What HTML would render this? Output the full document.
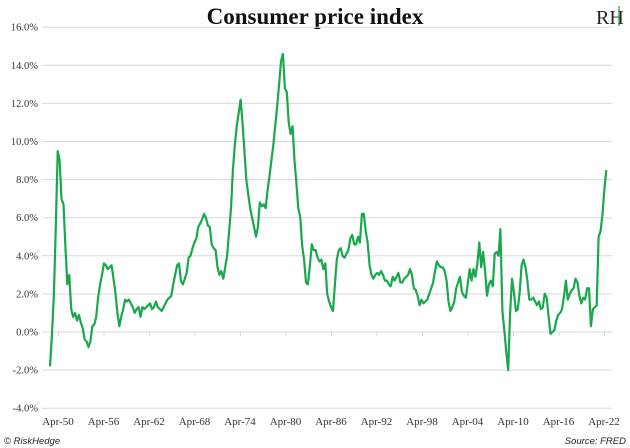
<!DOCTYPE html>
<html><head><meta charset="utf-8">
<style>
body{margin:0;background:#fff;width:630px;height:448px;overflow:hidden;font-family:"Liberation Serif",serif;}
svg{display:block}
</style></head>
<body>
<svg id="chart" width="630" height="448">
<text x="315" y="24" text-anchor="middle" font-size="23" font-weight="bold" fill="#111">Consumer price index</text>
<g><text x="596" y="24" font-size="20" fill="#222">RH</text><line x1="619" y1="6" x2="619" y2="26" stroke="#2a9d4a" stroke-width="1.2"/></g>
<g id="grid"></g><g id="ylabels"></g><g id="xlabels"></g>
<path id="line" fill="none" stroke="#1aa84c" stroke-width="2.2" stroke-linejoin="round"/>
<text x="4" y="444" font-family="Liberation Sans, sans-serif" font-style="italic" font-size="9.5" fill="#222">© RiskHedge</text>
<text x="626" y="444" text-anchor="end" font-family="Liberation Sans, sans-serif" font-style="italic" font-size="9.5" fill="#222">Source: FRED</text>
</svg>
<script>
const yTicks=[-4,-2,0,2,4,6,8,10,12,14,16];
const xLabels=["Apr-50","Apr-56","Apr-62","Apr-68","Apr-74","Apr-80","Apr-86","Apr-92","Apr-98","Apr-04","Apr-10","Apr-16","Apr-22"];
const startYear=1950;
const stepYears=0.25;
const values=[
-1.8,-0.2,2.0,5.5,
9.5,9.0,7.0,6.7,
4.5,2.5,3.0,1.2,
0.8,1.0,0.6,0.9,
0.5,0.2,-0.4,-0.5,
-0.8,-0.5,0.3,0.4,
0.8,1.8,2.5,3.0,
3.6,3.5,3.3,3.4,
3.5,2.8,2.0,1.0,
0.3,0.8,1.2,1.7,
1.6,1.7,1.5,1.3,
1.0,1.2,1.3,0.8,
1.3,1.2,1.3,1.4,
1.5,1.2,1.3,1.6,
1.3,1.2,1.1,1.3,
1.5,1.7,1.8,1.9,
2.5,3.0,3.5,3.6,
2.7,2.5,2.8,3.1,
3.9,4.0,4.4,4.7,
4.9,5.5,5.7,5.9,
6.2,6.0,5.6,5.5,
4.6,4.4,4.3,3.4,
3.0,3.2,2.8,3.4,
4.0,5.2,6.5,8.5,
9.8,10.8,11.5,12.2,
11.0,9.5,8.0,7.2,
6.5,6.0,5.5,5.0,
5.5,6.8,6.6,6.7,
6.5,7.4,8.2,9.0,
9.8,10.8,11.8,13.0,
14.2,14.6,12.8,12.6,
11.0,10.4,10.8,9.0,
7.8,6.5,6.0,4.5,
3.8,2.6,2.5,3.5,
4.6,4.3,4.3,3.9,
3.7,3.8,3.3,3.6,
2.0,1.6,1.3,1.1,
2.5,3.8,4.3,4.4,
4.0,3.9,4.1,4.3,
4.9,5.1,4.6,4.6,
5.0,4.7,6.2,6.2,
5.3,4.7,3.5,3.0,
2.8,3.0,3.1,3.0,
3.2,3.0,2.7,2.7,
2.5,2.4,2.9,2.7,
2.9,3.1,2.6,2.6,
2.8,2.9,3.0,3.3,
3.0,2.3,2.2,1.9,
1.4,1.7,1.5,1.6,
1.7,2.0,2.3,2.6,
3.2,3.7,3.5,3.4,
3.4,3.2,2.7,1.6,
1.1,1.3,1.6,2.3,
2.6,2.9,2.1,1.9,
1.8,2.5,3.3,2.7,
3.3,2.9,3.6,4.7,
3.4,4.2,3.2,1.9,
2.5,2.7,2.4,4.1,
4.2,4.0,5.4,1.1,
0.1,-1.0,-2.0,1.0,
2.8,2.1,1.1,1.2,
2.1,3.5,3.8,3.4,
2.7,1.7,1.7,1.8,
1.6,1.4,1.6,1.2,
1.3,2.0,1.8,0.8,
-0.1,0.0,0.1,0.6,
0.9,1.0,1.2,1.9,
2.7,1.7,2.0,2.2,
2.3,2.8,2.6,1.9,
1.5,1.8,1.7,2.3,
2.3,0.3,1.2,1.3,
1.4,5.0,5.3,6.2,
7.5,8.5];

const NS='http://www.w3.org/2000/svg';
const Y0=332, PX=19.05, XL=42, XR=612;
function yScale(v){return Y0 - v*PX;}
function xScale(t){return 50 + (t-1950)*7.7;}
const grid=document.getElementById('grid'), yl=document.getElementById('ylabels'), xl=document.getElementById('xlabels');
yTicks.forEach(v=>{
  const l=document.createElementNS(NS,'line');
  l.setAttribute('x1',XL);l.setAttribute('x2',XR);l.setAttribute('y1',yScale(v));l.setAttribute('y2',yScale(v));
  l.setAttribute('stroke','#d9d9d9');l.setAttribute('stroke-width','1');
  
  
  grid.appendChild(l);
  const t=document.createElementNS(NS,'text');
  t.setAttribute('x',38);t.setAttribute('y',yScale(v)+3.5);t.setAttribute('text-anchor','end');
  t.setAttribute('font-size','10.5');t.setAttribute('fill','#333');
  t.textContent=v.toFixed(1)+'%';
  
  
  yl.appendChild(t);
});
xLabels.forEach((s,i)=>{
  const x=58+i*45.5;
  const tk=document.createElementNS(NS,'line');
  tk.setAttribute('x1',x+0.5);tk.setAttribute('x2',x+0.5);tk.setAttribute('y1',Y0);tk.setAttribute('y2',Y0+4);
  tk.setAttribute('stroke','#d9d9d9');
  
  
  grid.appendChild(tk);
  const t=document.createElementNS(NS,'text');
  t.setAttribute('x',x);t.setAttribute('y',425);t.setAttribute('text-anchor','middle');
  t.setAttribute('font-size','11');t.setAttribute('fill','#333');
  t.textContent=s;
  
  
  xl.appendChild(t);
});
let d='';
values.forEach((v,i)=>{const t=startYear+i*stepYears;d+=(i?'L':'M')+xScale(t).toFixed(1)+' '+yScale(v).toFixed(1);});
document.getElementById('line').setAttribute('d',d);
</script>
</body></html>
